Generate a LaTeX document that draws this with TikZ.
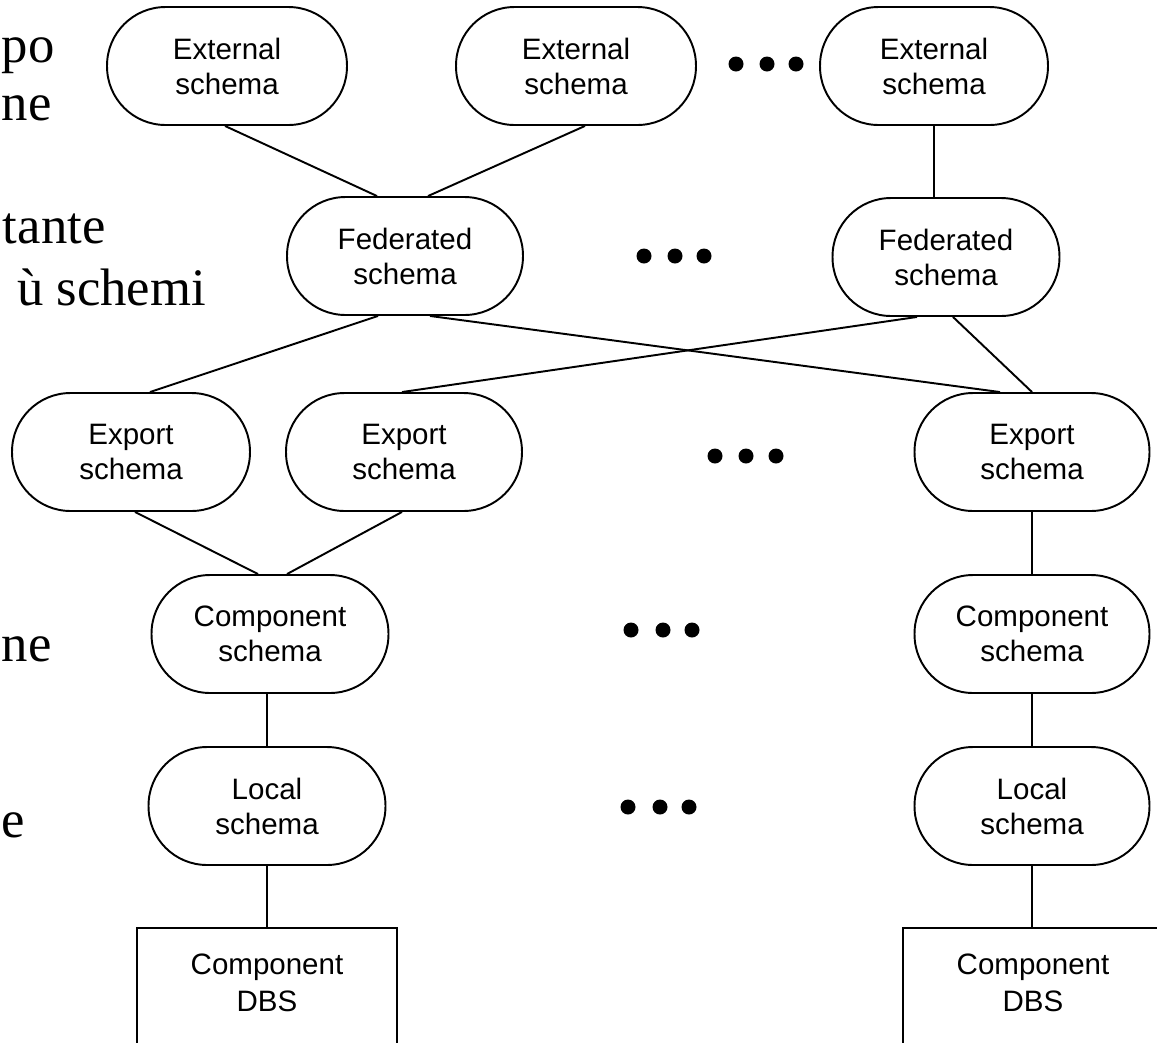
\documentclass[tikz,border=0pt]{standalone}
\usepackage{fontspec}
\setmainfont{Liberation Sans}
\newfontfamily\sidefont{Liberation Serif}
\usetikzlibrary{calc}
\begin{document}
\begin{tikzpicture}[x=0.02cm,y=-0.02cm, line width=1.1pt,
  stad/.style={draw, rectangle, rounded corners=1.17cm, minimum height=2.36cm,
    align=center, inner sep=0pt, font=\fontsize{16.8pt}{19.9pt}\selectfont},
  txt/.style={align=center, inner sep=0pt, font=\fontsize{16.8pt}{21pt}\selectfont},
  dot/.style={circle, fill, inner sep=0pt, minimum size=0.3cm},
  side/.style={anchor=base east, inner sep=0pt, font=\sidefont\fontsize{30pt}{36pt}\selectfont},
  sidel/.style={side, anchor=base west}]
\useasboundingbox (0,0) rectangle (1157,1042);
\fill[white] (0,0) rectangle (1157,1042);

% side text fragments
\node[sidel] (s1) at (1,62) {po};
\node[sidel] (s2) at (1,120) {ne};
\node[sidel] (s3) at (2,243) {tante};
\node[side] (s4) at (207,305) {ù schemi};
\node[sidel] (s5) at (1,661) {ne};
\node[sidel] (s6) at (1,837) {e};

% external schemas
\node[stad, minimum width=4.8cm] (e1) at (227,66) {External\\schema};
\node[stad, minimum width=4.8cm] (e2) at (576,66) {External\\schema};
\node[stad, minimum width=4.56cm] (e3) at (934,66) {External\\schema};
% federated
\node[stad, minimum width=4.72cm] (f1) at (405,256) {Federated\\schema};
\node[stad, minimum width=4.54cm] (f2) at (946,257) {Federated\\schema};
% export
\node[stad, minimum width=4.76cm] (x1) at (131,452) {Export\\schema};
\node[stad, minimum width=4.72cm] (x2) at (404,452) {Export\\schema};
\node[stad, minimum width=4.7cm] (x3) at (1032,452) {Export\\schema};
% component
\node[stad, minimum width=4.74cm] (c1) at (270,634) {Component\\schema};
\node[stad, minimum width=4.7cm] (c2) at (1032,634) {Component\\schema};
% local
\node[stad, minimum width=4.74cm] (l1) at (267,806) {Local\\schema};
\node[stad, minimum width=4.7cm] (l2) at (1032,806) {Local\\schema};

% component DBS boxes (cut off at the bottom)
\coordinate (b1top) at (267,928);
\coordinate (b2top) at (1033,928);
\begin{scope}
\clip (0,0) rectangle (1157,1042);
\draw (b1top) -| ++(-130,140);
\draw (b1top) -| ++(130,140);
\draw (b2top) -| ++(-130,140);
\draw (b2top) -| ++(130,140);
\end{scope}
\node[txt] (b1) at (267,983) {Component\\DBS};
\node[txt] (b2) at (1033,983) {Component\\DBS};

% dots
\foreach \i/\x/\y in {1/736/64,2/767/64,3/796/64,
                      4/644/256,5/675/256,6/704/256,
                      7/715/456,8/746/456,9/776/456,
                      10/631/630,11/663/630,12/692/630,
                      13/628/807,14/660/807,15/689/807}
  \node[dot] (d\i) at (\x,\y) {};

% connectors
\draw ($(e1.south)+(-2,0)$) -- ($(f1.north)+(-28,0)$);
\draw ($(e2.south)+(9,0)$) -- ($(f1.north)+(23,0)$);
\draw (e3.south) -- (e3.south |- f2.north);
\draw ($(f1.south)+(-27,0)$) -- ($(x1.north)+(19,0)$);
\draw ($(f1.south)+(25,0)$) -- ($(x3.north)+(-32,0)$);
\draw ($(f2.south)+(-29,0)$) -- ($(x2.north)+(-2,0)$);
\draw ($(f2.south)+(7,0)$) -- (x3.north);
\draw ($(x1.south)+(4,0)$) -- ($(c1.north)+(-12,0)$);
\draw ($(x2.south)+(-2,0)$) -- ($(c1.north)+(17,0)$);
\draw (x3.south) -- (c2.north);
\draw (c1.south -| l1.north) -- (l1.north);
\draw (c2.south) -- (l2.north);
\draw (l1.south) -- (b1top);
\draw (l2.south) -- (l2.south |- b2top);
\end{tikzpicture}
\end{document}
